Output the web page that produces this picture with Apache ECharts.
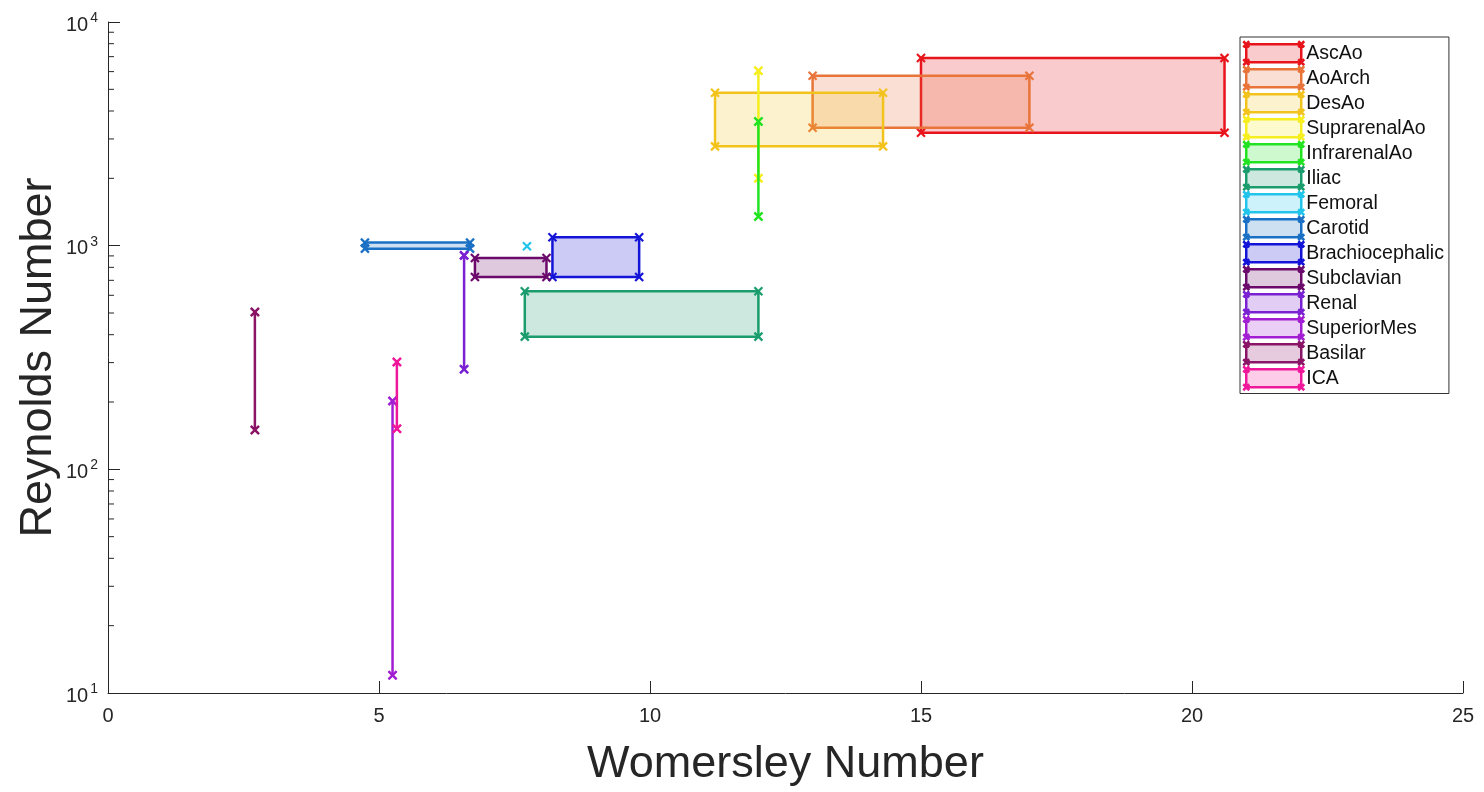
<!DOCTYPE html>
<html>
<head>
<meta charset="utf-8">
<script src="https://cdn.jsdelivr.net/npm/echarts@6/dist/echarts.min.js"></script>
<style>html,body{margin:0;padding:0;background:#fff}#c{width:1484px;height:792px}</style>
</head>
<body>
<div id="c"></div>
<script>
const names = ['AscAo','AoArch','DesAo','SuprarenalAo','InfrarenalAo','Iliac','Femoral','Carotid','Brachiocephalic','Subclavian','Renal','SuperiorMes','Basilar','ICA'];
const colors = ['#e8141c','#e8743a','#f2c31c','#f6ee1e','#22e322','#1a9c6c','#22c4ec','#1a70c4','#1414d8','#6c0a6c','#7a22d2','#a21ed2','#8a1466','#f0189a'];
const womMin = [15, 13, 11.2, 12, 12, 7.69, 7.73, 4.74, 8.2, 6.77, 6.57, 5.25, 2.71, 5.33];
const womMax = [20.6, 17, 14.3, 12, 12, 12, 7.73, 6.68, 9.8, 8.09, 6.57, 5.25, 2.71, 5.33];
const reMin = [3200, 3370, 2780, 2000, 1350, 392, 995, 970, 725, 725, 280, 12, 150, 152];
const reMax = [6900, 5750, 4830, 6050, 3590, 625, 995, 1032, 1090, 880, 905, 202, 505, 302];
const xTicks = [0, 25, 5];
const yRange = [10, 10000];
const minorTicks = [20,30,40,50,60,70,80,90,200,300,400,500,600,700,800,900,2000,3000,4000,5000,6000,7000,8000,9000];

const FONT = '"Liberation Sans", Arial, Helvetica, sans-serif';
const TXT = '#262626';

function hexA(hex, a) {
  const r = parseInt(hex.slice(1,3),16), g = parseInt(hex.slice(3,5),16), b = parseInt(hex.slice(5,7),16);
  return 'rgba(' + r + ',' + g + ',' + b + ',' + a + ')';
}
const ALPHA = 0.22;
const CR = 4;

function crosses(pts, color) {
  const out = [];
  pts.forEach(p => {
    out.push({type:'line', shape:{x1:p[0]-CR,y1:p[1]-CR,x2:p[0]+CR,y2:p[1]+CR}, style:{stroke:color,lineWidth:2.2}});
    out.push({type:'line', shape:{x1:p[0]-CR,y1:p[1]+CR,x2:p[0]+CR,y2:p[1]-CR}, style:{stroke:color,lineWidth:2.2}});
  });
  return out;
}

const iconPath = 'path://M4,4L59,4L59,22L4,22Z M1,1L7,7M1,7L7,1 M56,1L62,7M56,7L62,1 M56,19L62,25M56,25L62,19 M1,19L7,25M1,25L7,19';

const series = names.map((n, i) => ({
  type: 'custom',
  name: n,
  itemStyle: {color: colors[i]},
  data: [[womMin[i], womMax[i], reMin[i], reMax[i]]],
  encode: {x: [0, 1], y: [2, 3]},
  renderItem: function (params, api) {
    const c = colors[i];
    const a = api.coord([api.value(0), api.value(2)]);
    const b = api.coord([api.value(1), api.value(3)]);
    const children = [];
    const pts = [[a[0],a[1]],[b[0],a[1]],[b[0],b[1]],[a[0],b[1]]];
    const degenerate = Math.abs(a[0]-b[0]) < 0.5 && Math.abs(a[1]-b[1]) < 0.5;
    if (!degenerate) {
      children.push({type:'polygon', shape:{points: pts}, style:{fill: hexA(c, ALPHA), stroke: c, lineWidth: 2.5, lineJoin:'miter'}});
    }
    return {type:'group', children: children.concat(crosses(degenerate ? [pts[0]] : pts, c))};
  },
  z: 2 + i
}));

series.push({
  type: 'custom',
  name: '_minor',
  silent: true,
  data: minorTicks.map(v => [0, v]),
  encode: {x: 0, y: 1},
  renderItem: function (params, api) {
    const p = api.coord([api.value(0), api.value(1)]);
    return {type:'line', shape:{x1:p[0], y1:p[1], x2:p[0]+6, y2:p[1]}, style:{stroke:TXT, lineWidth:1}};
  },
  z: 1
});

const chart = echarts.init(document.getElementById('c'), null, {renderer: 'canvas'});
chart.setOption({
  animation: false,
  backgroundColor: '#fff',
  grid: {left: 108, right: 21, top: 22, bottom: 97, containLabel: false},
  xAxis: {
    type: 'value', min: xTicks[0], max: xTicks[1], interval: xTicks[2],
    name: 'Womersley Number', nameLocation: 'middle', nameGap: 49,
    nameMoveOverlap: false,
    nameTextStyle: {fontSize: 45, color: TXT, fontFamily: FONT},
    axisLine: {show: true, lineStyle: {color: TXT, width: 1}},
    axisTick: {show: true, inside: true, length: 12, lineStyle: {color: TXT}},
    axisLabel: {fontSize: 20, color: TXT, fontFamily: FONT, margin: 13},
    splitLine: {show: false}
  },
  yAxis: {
    type: 'log', logBase: 10, min: yRange[0], max: yRange[1],
    name: 'Reynolds Number', nameLocation: 'middle', nameGap: 47,
    nameMoveOverlap: false,
    nameTextStyle: {fontSize: 45, color: TXT, fontFamily: FONT},
    axisLine: {show: true, lineStyle: {color: TXT, width: 1}},
    axisTick: {show: true, inside: true, length: 12, lineStyle: {color: TXT}},
    axisLabel: {
      color: TXT, fontFamily: FONT, margin: 10,
      formatter: function (v) { return '{b|10}{s|' + Math.round(Math.log10(v)) + '}'; },
      rich: {
        b: {fontSize: 20, color: TXT, fontFamily: FONT, padding: [6, 0, 0, 0]},
        s: {fontSize: 14, color: TXT, fontFamily: FONT, padding: [0, 0, 8, 2]}
      }
    },
    splitLine: {show: false},
    minorTick: {show: false}
  },
  legend: {
    orient: 'vertical', left: 1240, top: 37,
    padding: [3, 5, 2, 2],
    itemGap: -1.5, itemWidth: 61, itemHeight: 24,
    borderColor: '#333', borderWidth: 1, backgroundColor: '#fff',
    selectedMode: false,
    textStyle: {fontSize: 19.5, color: '#111', fontFamily: FONT, padding: [0, 0, 0, -3]},
    data: names.map((n, i) => ({
      name: n, icon: iconPath,
      itemStyle: {color: hexA(colors[i], ALPHA), borderColor: colors[i], borderWidth: 2.5}
    }))
  },
  series: series
});
</script>
</body>
</html>
